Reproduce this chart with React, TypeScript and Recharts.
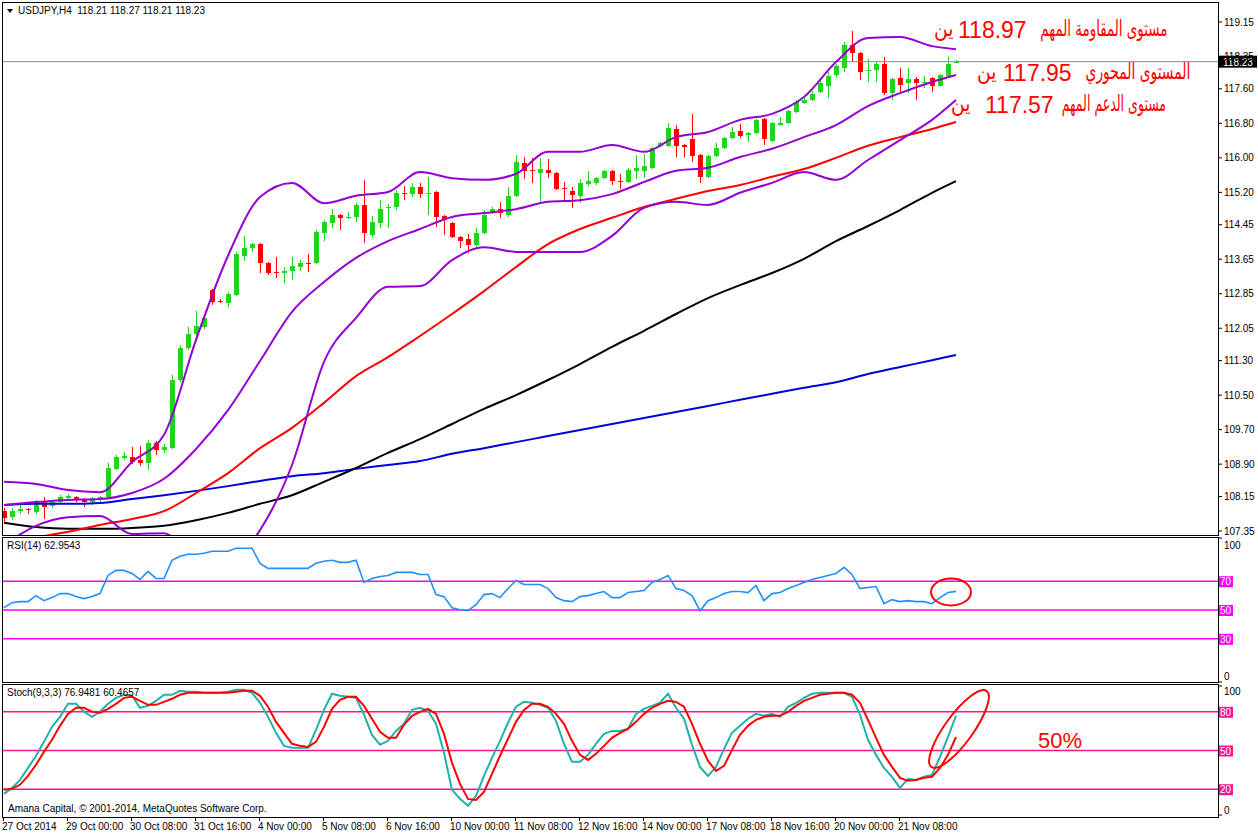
import React from "react";
import { Bar, ComposedChart, Line, ReferenceLine, XAxis, YAxis } from "recharts";

const FONT = '"Liberation Sans", Arial, sans-serif';
const GREEN = "#22d322";
const RED = "#ff0000";
const PURPLE = "#9400d3";

// H4 candles, bar 0 = 27 Oct 2014 16:00
const OPENS = [
  107.81, 107.67, 107.81, 107.86, 107.79, 108.02, 107.93, 108.02, 108.11, 108.14,
  108.07, 108.02, 108.09, 108.14, 108.79, 109.04, 109.07, 109.0, 108.93, 109.39,
  109.23, 109.27, 110.85, 111.59, 111.92, 112.08, 112.94, 112.68, 112.64, 112.82,
  113.73, 113.91, 114.0, 113.56, 113.35, 113.33, 113.38, 113.47, 113.56, 113.56,
  114.26, 114.49, 114.68, 114.61, 114.63, 114.91, 114.21, 114.49, 114.84, 114.86,
  115.19, 115.16, 115.32, 115.16, 115.21, 114.65, 114.49, 114.17, 114.12, 113.98,
  114.26, 114.72, 114.81, 114.68, 115.12, 115.88, 115.72, 115.65, 115.72, 115.65,
  115.3, 115.23, 115.12, 115.39, 115.42, 115.53, 115.7, 115.46, 115.44, 115.7,
  115.7, 115.77, 116.28, 116.28, 116.67, 116.3, 116.44, 116.07, 115.56, 116.04,
  116.23, 116.46, 116.62, 116.53, 116.58, 116.9, 116.39, 116.76, 116.81, 117.06,
  117.27, 117.34, 117.53, 117.67, 117.92, 118.08, 118.62, 118.43, 118.02, 118.04,
  118.18, 117.5, 117.85, 117.74, 117.83, 117.74, 117.85, 117.67, 117.9, 118.21,
];
const HIGHS = [
  107.88, 107.88, 107.95, 107.88, 108.07, 108.14, 108.07, 108.18, 108.21, 108.16,
  108.11, 108.14, 108.16, 108.93, 109.11, 109.18, 109.3, 109.32, 109.46, 109.44,
  109.37, 110.97, 111.66, 112.08, 112.45, 112.33, 112.96, 112.73, 112.89, 113.82,
  114.19, 114.03, 114.03, 113.59, 113.7, 113.47, 113.7, 113.63, 113.77, 114.33,
  114.56, 114.81, 114.7, 114.75, 114.95, 115.49, 114.65, 115.02, 114.93, 115.26,
  115.35, 115.42, 115.42, 115.56, 115.23, 114.68, 114.51, 114.19, 114.24, 114.37,
  114.79, 114.86, 114.98, 115.32, 116.07, 116.02, 116.0, 116.0, 115.97, 115.67,
  115.44, 115.32, 115.51, 115.7, 115.56, 115.72, 115.72, 115.63, 115.77, 116.07,
  116.09, 116.25, 116.37, 116.81, 116.76, 116.32, 117.02, 116.09, 116.07, 116.34,
  116.48, 116.72, 116.79, 116.6, 116.9, 116.92, 116.83, 116.95, 117.11, 117.34,
  117.43, 117.55, 117.81, 117.99, 118.18, 118.69, 118.94, 118.45, 118.29, 118.22,
  118.34, 117.85, 118.08, 118.08, 117.87, 117.9, 117.87, 117.94, 118.34, 118.27,
];
const LOWS = [
  107.56, 107.6, 107.74, 107.74, 107.74, 107.63, 107.88, 107.98, 108.07, 108.02,
  107.91, 107.95, 108.02, 108.11, 108.76, 109.0, 108.9, 108.86, 108.76, 109.11,
  109.16, 109.25, 110.8, 111.55, 111.85, 112.03, 112.59, 112.64, 112.54, 112.8,
  113.61, 113.82, 113.33, 113.28, 113.22, 113.1, 113.17, 113.38, 113.35, 113.54,
  114.07, 114.37, 114.33, 114.59, 114.51, 114.03, 114.17, 114.37, 114.37, 114.79,
  115.02, 115.09, 115.07, 114.68, 114.4, 114.21, 114.14, 113.91, 113.79, 113.93,
  114.24, 114.7, 114.61, 114.63, 115.09, 115.51, 115.42, 114.98, 115.53, 115.26,
  115.02, 114.84, 114.95, 115.35, 115.37, 115.51, 115.37, 115.28, 115.42, 115.51,
  115.53, 115.74, 116.25, 116.25, 116.02, 116.02, 115.9, 115.42, 115.53, 116.02,
  116.21, 116.44, 116.46, 116.37, 116.55, 116.3, 116.37, 116.74, 116.79, 117.04,
  117.25, 117.32, 117.5, 117.39, 117.87, 117.99, 118.25, 117.81, 117.76, 117.76,
  117.46, 117.34, 117.53, 117.5, 117.34, 117.62, 117.53, 117.67, 117.87, 118.21,
];
const CLOSES = [
  107.65, 107.81, 107.86, 107.84, 108.02, 107.91, 108.02, 108.14, 108.16, 108.07,
  108.02, 108.11, 108.14, 108.81, 109.07, 109.09, 108.95, 108.93, 109.39, 109.23,
  109.3, 110.85, 111.59, 111.92, 112.1, 112.29, 112.66, 112.66, 112.84, 113.77,
  113.91, 114.0, 113.56, 113.33, 113.33, 113.38, 113.49, 113.56, 113.54, 114.28,
  114.51, 114.68, 114.61, 114.63, 114.91, 114.26, 114.51, 114.81, 114.86, 115.19,
  115.16, 115.32, 115.16, 115.19, 114.63, 114.56, 114.17, 114.07, 113.98, 114.26,
  114.68, 114.81, 114.72, 115.12, 115.9, 115.7, 115.7, 115.74, 115.65, 115.28,
  115.28, 115.14, 115.42, 115.46, 115.53, 115.7, 115.46, 115.44, 115.72, 115.77,
  115.81, 116.23, 116.34, 116.69, 116.28, 116.25, 116.04, 115.56, 116.04, 116.23,
  116.46, 116.6, 116.51, 116.58, 116.88, 116.44, 116.81, 116.81, 117.09, 117.3,
  117.34, 117.48, 117.74, 117.9, 118.13, 118.62, 118.43, 117.99, 118.04, 118.18,
  117.5, 117.83, 117.69, 117.83, 117.74, 117.76, 117.67, 117.92, 118.18, 118.23,
];

// indicator samples on these bars
const BAND_BARS = [
  0, 4, 8, 12, 16, 20, 24, 28, 32, 36, 40, 44, 48, 52, 56, 60, 64, 68, 72, 76,
  80, 84, 88, 92, 96, 100, 104, 108, 112, 116, 119,
];
const BB_UPPER = [
  108.49, 108.44, 108.3, 108.25, 108.95, 109.58, 111.78, 113.73, 115.09, 115.42,
  114.95, 115.12, 115.21, 115.67, 115.53, 115.49, 115.63, 116.14, 116.14, 116.3,
  116.14, 116.48, 116.6, 116.88, 117.02, 117.41, 118.22, 118.78, 118.8, 118.59, 118.52,
];
const BB_MIDDLE = [
  107.95, 108.02, 108.07, 108.09, 108.23, 108.56, 109.25, 110.15, 111.29, 112.43,
  113.12, 113.68, 114.07, 114.35, 114.63, 114.72, 114.81, 114.98, 115.02, 115.16,
  115.44, 115.7, 115.77, 116.02, 116.21, 116.48, 116.76, 117.2, 117.5, 117.76, 117.92,
];
const BB_LOWER = [
  107.03, 107.47, 107.67, 107.7, 107.28, 107.3, 106.68, 106.56, 107.37, 108.88,
  111.27, 112.29, 113.01, 113.03, 113.63, 113.93, 113.82, 113.82, 113.82, 114.19,
  114.84, 114.98, 114.91, 115.19, 115.42, 115.67, 115.49, 115.95, 116.41, 116.88, 117.34,
];
const MA_RED = [
  106.96, 107.19, 107.33, 107.49, 107.63, 107.81, 108.23, 108.69, 109.27, 109.74,
  110.32, 110.94, 111.38, 111.87, 112.38, 112.91, 113.47, 114.0, 114.35, 114.61,
  114.86, 115.05, 115.23, 115.37, 115.56, 115.74, 116.0, 116.28, 116.48, 116.67, 116.83,
];
const MA_BLACK = [
  107.54, 107.44, 107.4, 107.4, 107.42, 107.47, 107.6, 107.77, 107.98, 108.18,
  108.49, 108.81, 109.16, 109.48, 109.83, 110.18, 110.5, 110.85, 111.22, 111.62,
  111.99, 112.38, 112.75, 113.05, 113.33, 113.66, 114.07, 114.42, 114.79, 115.19, 115.46,
];
const MA_BLUE = [
  107.95, 107.98, 107.98, 108.0, 108.09, 108.18, 108.28, 108.39, 108.51, 108.62,
  108.69, 108.79, 108.88, 108.97, 109.14, 109.27, 109.41, 109.55, 109.69, 109.83,
  109.97, 110.11, 110.25, 110.39, 110.53, 110.67, 110.8, 110.99, 111.15, 111.31, 111.43,
];

const RSI = [
  51.6, 55.1, 55.8, 55.8, 60.0, 56.5, 58.6, 61.4, 61.4, 59.3,
  57.9, 59.3, 61.4, 74.0, 77.5, 77.5, 75.4, 71.2, 76.8, 71.9,
  71.9, 84.5, 87.3, 88.7, 88.7, 89.4, 90.8, 90.8, 90.8, 92.9,
  92.9, 92.9, 82.4, 78.9, 78.9, 78.9, 78.9, 78.9, 78.9, 82.4,
  83.8, 84.5, 83.1, 83.1, 84.5, 69.1, 71.9, 73.3, 74.0, 76.1,
  76.1, 76.1, 74.7, 74.7, 60.7, 59.3, 51.6, 50.2, 49.5, 53.7,
  60.7, 61.4, 58.6, 64.9, 70.5, 67.7, 67.7, 67.7, 64.9, 58.6,
  56.5, 55.8, 59.3, 60.0, 61.4, 62.8, 58.6, 58.6, 62.1, 62.8,
  63.5, 69.1, 71.2, 74.0, 64.9, 63.5, 60.0, 49.5, 56.5, 58.6,
  61.4, 62.8, 62.8, 62.1, 67.0, 56.5, 61.4, 62.1, 64.9, 67.0,
  69.1, 71.2, 72.6, 74.0, 75.4, 79.6, 74.7, 64.9, 65.6, 66.3,
  54.4, 57.2, 55.8, 56.5, 55.8, 55.8, 54.4, 58.6, 62.1, 62.95,
];
const STOCH_MAIN = [
  16.4, 21.0, 27.2, 36.5, 45.9, 56.7, 68.3, 76.1, 86.2, 86.2,
  80.0, 76.1, 80.0, 86.2, 90.8, 93.2, 92.4, 83.1, 84.6, 88.5,
  93.2, 93.2, 96.3, 95.5, 95.5, 94.7, 94.7, 94.7, 95.5, 97.1,
  97.1, 94.7, 87.0, 76.1, 63.7, 53.6, 52.1, 52.1, 52.1, 66.0,
  81.5, 94.0, 92.4, 91.6, 90.8, 77.7, 62.1, 54.4, 57.5, 65.2,
  70.7, 81.5, 83.1, 80.8, 70.7, 48.2, 19.5, 12.5, 7.1, 14.8,
  30.3, 44.3, 57.5, 71.5, 83.9, 87.7, 87.0, 85.4, 83.1, 73.0,
  55.2, 41.2, 41.2, 46.6, 55.2, 62.9, 65.2, 65.2, 66.8, 78.4,
  82.3, 84.6, 87.0, 94.0, 83.1, 74.6, 54.4, 37.3, 30.3, 37.3,
  51.3, 63.7, 69.1, 74.6, 78.4, 76.9, 78.4, 76.1, 83.9, 87.0,
  90.8, 94.0, 94.7, 94.7, 94.7, 94.7, 91.6, 77.7, 58.3, 46.6,
  36.5, 29.6, 21.0, 28.0, 27.2, 29.6, 31.1, 45.1, 60.6, 76.95,
];
const STOCH_SIGNAL = [
  19.5, 20.3, 23.4, 30.3, 38.9, 49.0, 58.3, 69.1, 78.4, 83.1,
  83.1, 80.0, 79.2, 82.3, 86.2, 90.8, 91.6, 88.5, 85.4, 85.4,
  87.7, 90.1, 93.2, 94.7, 94.7, 94.7, 94.7, 94.7, 94.7, 95.5,
  96.3, 96.3, 92.4, 83.9, 72.2, 63.7, 55.2, 53.6, 52.8, 56.7,
  68.3, 82.3, 89.3, 91.6, 91.6, 84.6, 74.6, 64.5, 59.8, 59.8,
  69.9, 76.9, 80.0, 82.3, 78.4, 62.9, 40.4, 24.1, 12.5, 11.7,
  17.9, 31.9, 45.9, 59.0, 72.2, 81.5, 86.2, 86.2, 83.9, 78.4,
  70.7, 57.5, 46.6, 42.7, 47.4, 53.6, 59.8, 63.7, 66.8, 72.2,
  78.4, 83.1, 86.2, 88.5, 87.7, 83.9, 70.7, 55.2, 42.0, 34.2,
  38.1, 50.5, 62.1, 69.1, 73.8, 76.1, 76.9, 76.9, 80.0, 84.6,
  88.5, 90.8, 93.2, 94.0, 94.7, 94.7, 93.2, 87.0, 73.8, 59.8,
  46.6, 37.3, 28.8, 26.5, 27.2, 28.8, 29.6, 36.5, 46.6, 60.47,
];

const PRICE_TICKS = [
  119.15, 118.35, 117.6, 116.8, 116.0, 115.2, 114.45, 113.65, 112.85, 112.05,
  111.3, 110.5, 109.7, 108.9, 108.15, 107.35,
];
const RSI_LEVELS = [70, 50, 30];
const STOCH_LEVELS = [80, 50, 20];
const TIME_TICKS = [0, 8, 16, 24, 32, 40, 48, 56, 64, 72, 80, 88, 96, 104, 112];
const TIME_LABELS = [
  "27 Oct 2014", "29 Oct 00:00", "30 Oct 08:00", "31 Oct 16:00", "4 Nov 00:00",
  "5 Nov 08:00", "6 Nov 16:00", "10 Nov 00:00", "11 Nov 08:00", "12 Nov 16:00",
  "14 Nov 00:00", "17 Nov 08:00", "18 Nov 16:00", "20 Nov 00:00", "21 Nov 08:00",
];

// annotation levels written on the chart
const NOTES = [
  { phrase: "مستوى المقاومة المهم", value: "118.97" },
  { phrase: "المستوى المحوري", value: "117.95" },
  { phrase: "مستوى الدعم المهم", value: "117.57" },
];

const X_DOMAIN: [number, number] = [-0.125, 151.75];
const PRICE_DOMAIN: [number, number] = [107.257, 119.59];
const LAST_PRICE = CLOSES[CLOSES.length - 1];

const mainData = OPENS.map((open, i) => {
  const k = BAND_BARS.indexOf(i);
  const pick = (arr: number[]) => (k >= 0 ? arr[k] : null);
  return {
    i,
    open,
    high: HIGHS[i],
    low: LOWS[i],
    close: CLOSES[i],
    range: [LOWS[i], HIGHS[i]],
    bbUp: pick(BB_UPPER),
    bbMid: pick(BB_MIDDLE),
    bbLow: pick(BB_LOWER),
    maRed: pick(MA_RED),
    maBlack: pick(MA_BLACK),
    maBlue: pick(MA_BLUE),
  };
});
const rsiData = RSI.map((v, i) => ({ i, rsi: v }));
const stochData = STOCH_MAIN.map((v, i) => ({ i, main: v, signal: STOCH_SIGNAL[i] }));

function Candle(props: any) {
  const { x, y, width, height, payload } = props;
  const { open, close, high, low } = payload;
  const color = close >= open ? GREEN : RED;
  const top = Math.min(y, y + height);
  const h = Math.abs(height);
  const ratio = h / Math.max(high - low, 1e-6);
  const yOf = (v: number) => top + (high - v) * ratio;
  const bodyTop = yOf(Math.max(open, close));
  const bodyBot = yOf(Math.min(open, close));
  const cx = Math.round(x + width / 2);
  return (
    <g shapeRendering="crispEdges">
      <line x1={cx + 0.5} x2={cx + 0.5} y1={top} y2={top + h} stroke={color} />
      <rect
        x={cx - 2}
        y={Math.round(bodyTop)}
        width={5}
        height={Math.max(Math.round(bodyBot - bodyTop), 1)}
        fill={color}
      />
    </g>
  );
}

function PriceBox(props: any) {
  const { viewBox } = props;
  const x = viewBox.x + viewBox.width + 1;
  return (
    <g>
      <rect x={x} y={viewBox.y - 6} width={38} height={12} fill="#000" />
      <text x={x + 4} y={viewBox.y + 4} fontSize={10} fontFamily={FONT} fill="#fff">
        {LAST_PRICE.toFixed(2)}
      </text>
    </g>
  );
}

function makeLevelTick(levels: number[], color: string, topShift: number, bottomShift: number) {
  return function LevelTick(props: any) {
    const { x, y, payload } = props;
    const v = payload.value as number;
    const ty = v === 100 ? y + topShift : v === 0 ? y - bottomShift : y;
    if (levels.includes(v)) {
      return (
        <g>
          <rect x={x - 5} y={ty - 5} width={14} height={11} fill={color} />
          <text x={x - 4} y={ty + 4} fontSize={10} fontFamily={FONT} fill="#fff">
            {v}
          </text>
        </g>
      );
    }
    return (
      <text x={x} y={ty + 4} fontSize={10} fontFamily={FONT} fill="#000">
        {v}
      </text>
    );
  };
}

const RsiTick = makeLevelTick(RSI_LEVELS, "#ff00ff", 7, 6);
const StochTick = makeLevelTick(STOCH_LEVELS, "#ff1493", 5, 5);

function TimeTick(props: any) {
  const { x, payload } = props;
  const label = TIME_LABELS[TIME_TICKS.indexOf(payload.value)];
  return (
    <g>
      <line x1={x - 0.5} x2={x - 0.5} y1={133} y2={137} stroke="#000" />
      <text x={x - 2} y={146} fontSize={10} fontFamily={FONT} fill="#000">
        {label}
      </text>
    </g>
  );
}

const lineProps = {
  dot: false,
  activeDot: false,
  connectNulls: true,
  isAnimationActive: false,
};

function Panel({ top, height }: { top: number; height: number }) {
  return (
    <div
      style={{
        position: "absolute",
        left: 2,
        top,
        width: 1217,
        height,
        border: "1px solid #000",
        boxSizing: "border-box",
        pointerEvents: "none",
      }}
    />
  );
}

// where each note line sits: phrase right edge + squeeze, number left, "yen" left, centre y
const NOTE_POS = [
  { right: 1168, squeeze: 0.61, num: 958, yen: 934, cy: 30 },
  { right: 1190, squeeze: 0.63, num: 1003, yen: 977, cy: 73 },
  { right: 1166, squeeze: 0.57, num: 985, yen: 951, cy: 105 },
];

export default function App() {
  const textStyle: React.CSSProperties = {
    position: "absolute",
    fontFamily: FONT,
    fontSize: 10,
    color: "#000",
    whiteSpace: "nowrap",
    lineHeight: "12px",
  };
  const noteBase: React.CSSProperties = {
    position: "absolute",
    color: RED,
    whiteSpace: "nowrap",
    lineHeight: "26px",
  };
  const arabic: React.CSSProperties = {
    ...noteBase,
    fontFamily: '"DejaVu Sans", sans-serif',
    fontSize: 22,
    direction: "rtl",
  };

  return (
    <div
      style={{
        position: "absolute",
        left: 0,
        top: 0,
        width: 1258,
        height: 835,
        background: "#fff",
        overflow: "hidden",
      }}
    >
      <div style={{ position: "absolute", left: 0, top: 0 }}>
        <ComposedChart
          width={1258}
          height={537}
          data={mainData}
          margin={{ top: 3, right: 0, bottom: 2, left: 3 }}
        >
          <XAxis dataKey="i" type="number" domain={X_DOMAIN} allowDataOverflow hide />
          <YAxis
            orientation="right"
            type="number"
            domain={PRICE_DOMAIN}
            allowDataOverflow
            ticks={PRICE_TICKS}
            interval={0}
            width={40}
            axisLine={false}
            tickSize={4}
            tickMargin={2}
            tickLine={{ stroke: "#000" }}
            tickFormatter={(v: number) => v.toFixed(2)}
            tick={{ fontSize: 10, fontFamily: FONT, fill: "#000" }}
          />
          <ReferenceLine y={LAST_PRICE} stroke="#778899" strokeWidth={1} label={<PriceBox />} />
          <Bar dataKey="range" barSize={5} shape={<Candle />} isAnimationActive={false} />
          <Line type="monotone" dataKey="maBlue" stroke="#0000dd" strokeWidth={2} {...lineProps} />
          <Line type="monotone" dataKey="maBlack" stroke="#000000" strokeWidth={2} {...lineProps} />
          <Line type="monotone" dataKey="maRed" stroke="#ff0000" strokeWidth={2} {...lineProps} />
          <Line type="monotone" dataKey="bbLow" stroke={PURPLE} strokeWidth={2} {...lineProps} />
          <Line type="monotone" dataKey="bbMid" stroke={PURPLE} strokeWidth={2} {...lineProps} />
          <Line type="monotone" dataKey="bbUp" stroke={PURPLE} strokeWidth={2} {...lineProps} />
        </ComposedChart>
      </div>

      <div style={{ position: "absolute", left: 0, top: 537 }}>
        <ComposedChart
          width={1258}
          height={146}
          data={rsiData}
          margin={{ top: 1, right: 0, bottom: 1, left: 3 }}
        >
          <XAxis dataKey="i" type="number" domain={X_DOMAIN} allowDataOverflow hide />
          <YAxis
            orientation="right"
            type="number"
            domain={[0, 100]}
            allowDataOverflow
            ticks={[100, 70, 50, 30, 0]}
            interval={0}
            width={40}
            axisLine={false}
            tickSize={4}
            tickMargin={2}
            tickLine={{ stroke: "#000" }}
            tick={<RsiTick />}
          />
          {RSI_LEVELS.map((v) => (
            <ReferenceLine key={v} y={v} stroke="#ff00ff" strokeWidth={1.5} />
          ))}
          <Line type="linear" dataKey="rsi" stroke="#1e90ff" strokeWidth={1.6} {...lineProps} />
        </ComposedChart>
      </div>

      <div style={{ position: "absolute", left: 0, top: 684 }}>
        <ComposedChart
          width={1258}
          height={151}
          data={stochData}
          margin={{ top: 2, right: 0, bottom: 0, left: 3 }}
        >
          <XAxis
            dataKey="i"
            type="number"
            domain={X_DOMAIN}
            allowDataOverflow
            ticks={TIME_TICKS}
            interval={0}
            height={20}
            axisLine={false}
            tickLine={false}
            tick={<TimeTick />}
          />
          <YAxis
            orientation="right"
            type="number"
            domain={[0, 100]}
            allowDataOverflow
            ticks={[100, 80, 50, 20, 0]}
            interval={0}
            width={40}
            axisLine={false}
            tickSize={4}
            tickMargin={2}
            tickLine={{ stroke: "#000" }}
            tick={<StochTick />}
          />
          {STOCH_LEVELS.map((v) => (
            <ReferenceLine key={v} y={v} stroke="#ff1493" strokeWidth={1.5} />
          ))}
          <Line type="linear" dataKey="main" stroke="#20b2aa" strokeWidth={2} {...lineProps} />
          <Line type="linear" dataKey="signal" stroke="#ff0000" strokeWidth={2} {...lineProps} />
        </ComposedChart>
      </div>

      <Panel top={2} height={534} />
      <Panel top={537} height={146} />
      <Panel top={684} height={134} />

      {/* header texts */}
      <div
        style={{
          position: "absolute",
          left: 7,
          top: 9,
          width: 0,
          height: 0,
          borderLeft: "3px solid transparent",
          borderRight: "3px solid transparent",
          borderTop: "4px solid #000",
        }}
      />
      <div style={{ ...textStyle, left: 18, top: 5 }}>
        USDJPY,H4&nbsp;&nbsp;118.21 118.27 118.21 118.23
      </div>
      <div style={{ ...textStyle, left: 7, top: 540 }}>RSI(14) 62.9543</div>
      <div style={{ ...textStyle, left: 7, top: 687 }}>Stoch(9,3,3) 76.9481 60.4657</div>
      <div style={{ ...textStyle, left: 8, top: 803 }}>
        Amana Capital, © 2001-2014, MetaQuotes Software Corp.
      </div>

      {/* hand-written notes */}
      {NOTES.map((n, k) => {
        const p = NOTE_POS[k];
        return (
          <React.Fragment key={n.value}>
            <div
              style={{
                ...arabic,
                right: 1258 - p.right,
                top: p.cy - 14,
                transform: `scaleX(${p.squeeze})`,
                transformOrigin: "right center",
              }}
            >
              {n.phrase}
            </div>
            <div
              style={{
                ...noteBase,
                fontFamily: FONT,
                fontSize: 23,
                left: p.num,
                top: p.cy - 13,
              }}
            >
              {n.value}
            </div>
            <div
              style={{
                ...arabic,
                left: p.yen,
                top: p.cy - 14,
                transform: "scaleX(0.85)",
                transformOrigin: "left center",
              }}
            >
              ين
            </div>
          </React.Fragment>
        );
      })}
      <div style={{ ...noteBase, fontFamily: FONT, fontSize: 22, left: 1038, top: 728 }}>50%</div>
      <svg
        width={1258}
        height={835}
        style={{ position: "absolute", left: 0, top: 0, pointerEvents: "none" }}
      >
        <ellipse cx={951} cy={592} rx={20} ry={13.5} fill="none" stroke={RED} strokeWidth={2} />
        <ellipse
          cx={959}
          cy={729}
          rx={47}
          ry={14}
          fill="none"
          stroke={RED}
          strokeWidth={2}
          transform="rotate(-54 959 729)"
        />
      </svg>
    </div>
  );
}
